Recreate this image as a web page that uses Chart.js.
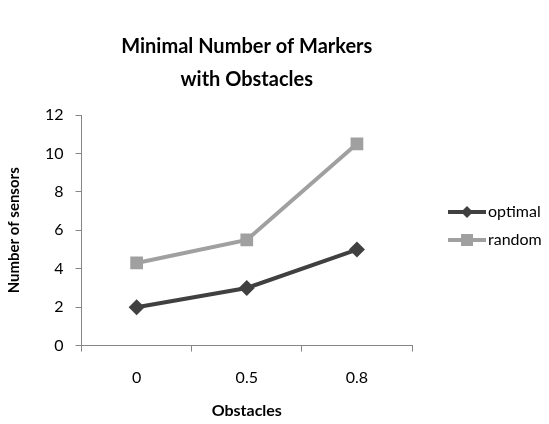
<!DOCTYPE html>
<html>
<head>
<meta charset="utf-8">
<script src="https://cdn.jsdelivr.net/npm/chart.js@4"></script>
<style>
  html, body { margin: 0; padding: 0; background: #fff; }
  #wrap { width: 549px; height: 424px; }
</style>
</head>
<body>
<div id="wrap"><canvas id="chart" width="549" height="424"></canvas></div>
<script>
const categories = ["0", "0.5", "0.8"];
const optimalValues = [2, 3, 5];
const randomValues = [4.3, 5.5, 10.5];
const yTicks = [0, 2, 4, 6, 8, 10, 12];
const titleLines = ["Minimal Number of Markers", "with Obstacles"];

const fontFamily = "Lato, 'Open Sans', 'Liberation Sans', sans-serif";
const axisGray = "#868686";

// title centred over the plot area, like the original
const plotTitle = {
    id: "plotTitle",
    afterDraw(chart) {
        const ctx = chart.ctx;
        const cx = (chart.chartArea.left + chart.chartArea.right) / 2;
        ctx.save();
        ctx.fillStyle = "#000";
        ctx.font = "bold 20px " + fontFamily;
        ctx.textAlign = "center";
        ctx.textBaseline = "middle";
        titleLines.forEach((line, i) => ctx.fillText(line, cx, 47 + i * 33));
        ctx.restore();
    }
};

// legend drawn by hand so each entry shows line + marker like the original
const sideLegend = {
    id: "sideLegend",
    afterDraw(chart) {
        const ctx = chart.ctx;
        const x0 = 448;
        const rows = [212, 240];
        chart.data.datasets.forEach((ds, i) => {
            const y = rows[i];
            ctx.save();
            ctx.strokeStyle = ds.borderColor;
            ctx.lineWidth = 4;
            ctx.beginPath();
            ctx.moveTo(x0, y);
            ctx.lineTo(x0 + 38, y);
            ctx.stroke();
            ctx.fillStyle = ds.backgroundColor;
            if (ds.pointStyle === "rectRot") {
                ctx.beginPath();
                ctx.moveTo(x0 + 19, y - 6);
                ctx.lineTo(x0 + 25, y);
                ctx.lineTo(x0 + 19, y + 6);
                ctx.lineTo(x0 + 13, y);
                ctx.closePath();
                ctx.fill();
            } else {
                ctx.fillRect(x0 + 13, y - 6, 12, 12);
            }
            ctx.fillStyle = "#000";
            ctx.font = "16px " + fontFamily;
            ctx.textBaseline = "middle";
            ctx.fillText(ds.label, x0 + 40, y);
            ctx.restore();
        });
    }
};

new Chart(document.getElementById("chart"), {
    type: "line",
    data: {
        labels: categories,
        datasets: [
            {
                label: "optimal",
                data: optimalValues,
                borderColor: "#404040",
                backgroundColor: "#404040",
                borderWidth: 4,
                pointStyle: "rectRot",
                pointRadius: 8,
                pointBorderWidth: 0,
                tension: 0
            },
            {
                label: "random",
                data: randomValues,
                borderColor: "#a0a0a0",
                backgroundColor: "#a0a0a0",
                borderWidth: 4,
                pointStyle: "rect",
                pointRadius: 9,
                pointBorderWidth: 0,
                tension: 0
            }
        ]
    },
    options: {
        responsive: false,
        animation: false,
        layout: { padding: { left: 1, right: 137, top: 115, bottom: 4 } },
        plugins: {
            legend: { display: false },
            tooltip: { enabled: false },
            title: { display: false }
        },
        scales: {
            x: {
                offset: true,
                grid: {
                    offset: true,
                    drawOnChartArea: false,
                    drawTicks: true,
                    tickLength: 6,
                    color: axisGray
                },
                border: { color: axisGray, width: 1 },
                ticks: { color: "#000", font: { family: fontFamily, size: 16 }, padding: 17 },
                title: {
                    display: true,
                    text: "Obstacles",
                    color: "#000",
                    font: { family: fontFamily, size: 16, weight: "bold" },
                    padding: { top: -4, bottom: 0 }
                }
            },
            y: {
                min: 0,
                max: 12,
                afterBuildTicks(scale) {
                    scale.ticks = yTicks.map(v => ({ value: v }));
                },
                grid: {
                    drawOnChartArea: false,
                    drawTicks: true,
                    tickLength: 6,
                    color: axisGray
                },
                border: { color: axisGray, width: 1 },
                ticks: { color: "#000", font: { family: fontFamily, size: 16 }, padding: 12 },
                title: {
                    display: true,
                    text: "Number of sensors",
                    color: "#000",
                    font: { family: fontFamily, size: 15, weight: "bold" },
                    padding: { bottom: 10 }
                }
            }
        }
    },
    plugins: [plotTitle, sideLegend]
});
</script>
</body>
</html>
